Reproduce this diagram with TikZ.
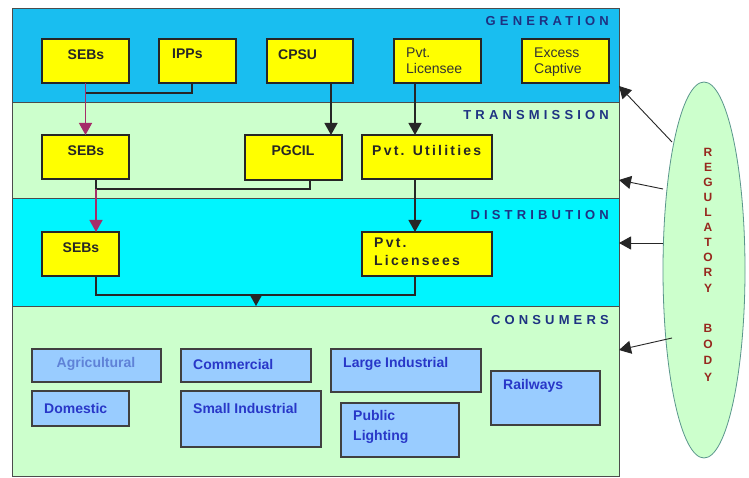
\documentclass[tikz,border=0pt]{standalone}
\usepackage{fontspec}
\setmainfont{Liberation Sans}
\newfontfamily\spacedfont[LetterSpace=32]{Liberation Sans}
\newfontfamily\spacedsmall[LetterSpace=16]{Liberation Sans}
\usetikzlibrary{arrows.meta,shapes.geometric}
\definecolor{genc}{RGB}{25,190,240}
\definecolor{distc}{RGB}{0,245,255}
\definecolor{lgreen}{RGB}{204,255,204}
\definecolor{yel}{RGB}{255,255,0}
\definecolor{cblue}{RGB}{153,204,255}
\definecolor{ctext}{RGB}{40,55,200}
\definecolor{ctextl}{RGB}{95,130,215}
\definecolor{navy}{RGB}{30,50,130}
\definecolor{magc}{RGB}{165,45,105}
\definecolor{regred}{RGB}{150,40,30}
\definecolor{ellc}{RGB}{90,150,140}
\begin{document}
\begin{tikzpicture}[x=1pt,y=-1pt,
 band/.style={draw=black!70, line width=0.8pt, inner sep=0, outer sep=0, anchor=north west},
 ybox/.style={draw=black!85, line width=1.1pt, fill=yel, inner sep=0, outer sep=0, anchor=north west},
 cbox/.style={draw=black!75, line width=1.1pt, fill=cblue, inner sep=0, outer sep=0, anchor=north west},
 bt/.style={font=\fontsize{14}{16}\selectfont\bfseries, text=black!85, inner sep=0},
 bts/.style={font=\fontsize{14}{18}\selectfont\bfseries\spacedsmall, text=black!85, inner sep=0, align=left},
 rt/.style={font=\fontsize{14}{16}\selectfont, text=black!80, inner sep=0, align=left},
 ct/.style={font=\fontsize{14}{20}\selectfont\bfseries, text=ctext, inner sep=0, align=left},
 lab/.style={font=\fontsize{13}{15}\selectfont\bfseries\spacedfont, text=navy, inner sep=0, anchor=east},
 conn/.style={line width=1.3pt, draw=black!85},
 magline/.style={line width=1.3pt, draw=magc},
 regl/.style={line width=0.9pt, draw=black!85},
 tip/.style={-{Triangle[length=12pt,width=13pt]}},
 regtxt/.style={font=\fontsize{12}{15.1}\selectfont\bfseries, text=regred, inner sep=0, align=center, anchor=north}
]
\useasboundingbox (0,0) rectangle (749,478);
\fill[white] (0,0) rectangle (749,478);

% bands
\node[band, fill=genc, minimum width=607, minimum height=94] (gen) at (12,8) {};
\node[band, fill=lgreen, minimum width=607, minimum height=96] (trans) at (12,102) {};
\node[band, fill=distc, minimum width=607, minimum height=108] (dist) at (12,198) {};
\node[band, fill=lgreen, minimum width=607, minimum height=170] (cons) at (12,306) {};

\node[lab] (genl) at (609,21) {GENERATION};
\node[lab] (transl) at (609,115) {TRANSMISSION};
\node[lab] (distl) at (609,215) {DISTRIBUTION};
\node[lab] (consl) at (609,320) {CONSUMERS};

% generation
\node[ybox, minimum width=87, minimum height=44] (g1) at (42,39) {};
\node[ybox, minimum width=77, minimum height=44] (g2) at (159,39) {};
\node[ybox, minimum width=86, minimum height=44] (g3) at (267,39) {};
\node[ybox, minimum width=87, minimum height=44] (g4) at (394,39) {};
\node[ybox, minimum width=87, minimum height=44] (g5) at (522,39) {};
\node[bt] (g1t) at (86,55) {SEBs};
\node[bt, anchor=west] (g2t) at (172,54) {IPPs};
\node[bt, anchor=west] (g3t) at (278,55) {CPSU};
\node[rt, anchor=north west] (g4t) at (406,48) {Pvt.\\Licensee};
\node[rt, anchor=north west] (g5t) at (534,48) {Excess\\Captive};

% transmission
\node[ybox, minimum width=87, minimum height=44] (t1) at (42,135) {};
\node[ybox, minimum width=97, minimum height=45] (t2) at (245,135) {};
\node[ybox, minimum width=130, minimum height=44] (t3) at (362,135) {};
\node[bt] (t1t) at (86,151) {SEBs};
\node[bt] (t2t) at (293,151) {PGCIL};
\node[bts, anchor=west] (t3t) at (372,150) {Pvt. Utilities};

% distribution
\node[ybox, minimum width=77, minimum height=44] (d1) at (42,232) {};
\node[ybox, minimum width=130, minimum height=44] (d2) at (362,232) {};
\node[bt] (d1t) at (81,248) {SEBs};
\node[bts, anchor=north west] (d2t) at (374,238) {Pvt.\\Licensees};

% consumers
\node[cbox, minimum width=129, minimum height=33] (c1) at (32,349) {};
\node[cbox, minimum width=97, minimum height=35] (c2) at (32,391) {};
\node[cbox, minimum width=130, minimum height=33] (c3) at (181,349) {};
\node[cbox, minimum width=140, minimum height=56] (c4) at (181,391) {};
\node[cbox, minimum width=150, minimum height=43] (c5) at (331,349) {};
\node[cbox, minimum width=118, minimum height=54] (c6) at (341,403) {};
\node[cbox, minimum width=109, minimum height=54] (c7) at (491,371) {};
\node[ct, text=ctextl] (c1t) at (96,364) {Agricultural};
\node[ct, anchor=west] (c2t) at (44,408) {Domestic};
\node[ct, anchor=west] (c3t) at (193,364) {Commercial};
\node[ct, anchor=west] (c4t) at (193,408) {Small Industrial};
\node[ct, anchor=west] (c5t) at (343,364) {Large Industrial};
\node[ct, anchor=north west] (c6t) at (353,410) {Public\\Lighting};
\node[ct, anchor=west] (c7t) at (503,386) {Railways};

% connectors
\coordinate (j1) at (85.5,93);
\coordinate (j2) at (96,189);
\coordinate (j3) at (256,295);
\draw[magline, tip] (g1.south) -- (t1.north);
\draw[conn] ([xshift=-5.5pt]g2.south) |- (j1);
\draw[conn, tip] ([xshift=21pt]g3.south) -- ([xshift=21pt]g3.south |- t2.north);
\draw[conn, tip] ([xshift=-22.5pt]g4.south) -- ([xshift=-22.5pt]g4.south |- t3.north);
\draw[conn] ([xshift=10.5pt]t1.south) -- (j2);
\draw[conn] ([xshift=16.5pt]t2.south) |- (j2);
\draw[magline, tip] (j2) -- (j2 |- d1.north);
\draw[conn, tip] ([xshift=-12pt]t3.south) -- ([xshift=-12pt]t3.south |- d2.north);
\draw[conn] ([xshift=15.5pt]d1.south) |- (j3) -| ([xshift=-12pt]d2.south);
\draw[conn, tip] (j3) -- (j3 |- cons.north);

% regulatory body
\node[ellipse, draw=ellc, line width=0.8pt, fill=lgreen, minimum width=82, minimum height=376, inner sep=0] (reg) at (704,270) {};
\node[regtxt] (regt1) at (708,147.7) {R\\E\\G\\U\\L\\A\\T\\O\\R\\Y};
\node[regtxt, font=\fontsize{12}{16.3}\selectfont\bfseries] (regt2) at (708,323.7) {B\\O\\D\\Y};

\coordinate (r1) at (672,142);
\coordinate (r2) at (663,189);
\coordinate (r3) at (663,243);
\coordinate (r4) at (672,338);
\draw[regl, tip] (r1) -- (gen.east |- 0,86);
\draw[regl, tip] (r2) -- (trans.east |- 0,180);
\draw[regl, tip] (r3) -- (dist.east |- 0,243);
\draw[regl, tip] (r4) -- (cons.east |- 0,350);
\end{tikzpicture}
\end{document}
